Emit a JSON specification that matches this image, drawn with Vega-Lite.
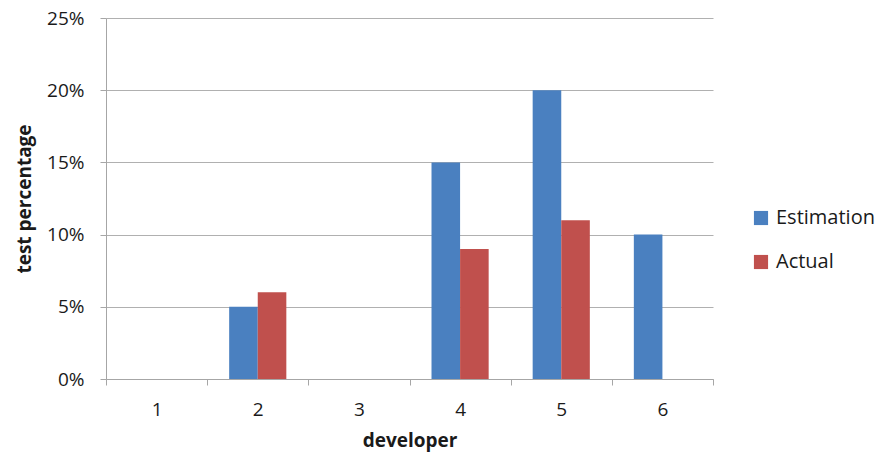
{
  "$schema": "https://vega.github.io/schema/vega-lite/v6.json",
  "autosize": "none",
  "width": 607,
  "height": 361,
  "padding": {"left": 106, "top": 18, "right": 165, "bottom": 82},
  "background": "white",
  "config": {
    "font": "Open Sans",
    "view": {"stroke": null},
    "axis": {
      "labelFont": "Open Sans",
      "titleFont": "Open Sans",
      "labelFontSize": 19,
      "titleFontSize": 19,
      "labelColor": "#1a1a1a",
      "titleColor": "#1a1a1a",
      "titleFontWeight": "bold",
      "domainColor": "#a6a6a6",
      "tickColor": "#a6a6a6",
      "gridColor": "#b0b0b0",
      "tickSize": 6
    }
  },
  "data": {
    "values": [
      {"developer": "1", "series": "Estimation", "pct": 0},
      {"developer": "1", "series": "Actual", "pct": 0},
      {"developer": "2", "series": "Estimation", "pct": 0.05},
      {"developer": "2", "series": "Actual", "pct": 0.06},
      {"developer": "3", "series": "Estimation", "pct": 0},
      {"developer": "3", "series": "Actual", "pct": 0},
      {"developer": "4", "series": "Estimation", "pct": 0.15},
      {"developer": "4", "series": "Actual", "pct": 0.09},
      {"developer": "5", "series": "Estimation", "pct": 0.20},
      {"developer": "5", "series": "Actual", "pct": 0.11},
      {"developer": "6", "series": "Estimation", "pct": 0.10},
      {"developer": "6", "series": "Actual", "pct": 0}
    ]
  },
  "mark": {"type": "bar"},
  "encoding": {
    "x": {
      "field": "developer",
      "type": "nominal",
      "title": "developer",
      "scale": {"paddingInner": 0, "paddingOuter": 0},
      "axis": {
        "labelAngle": 0,
        "tickBand": "extent",
        "labelPadding": 15,
        "titlePadding": 12
      }
    },
    "xOffset": {
      "field": "series",
      "type": "nominal",
      "sort": ["Estimation", "Actual"],
      "scale": {"paddingInner": 0, "paddingOuter": 0.77}
    },
    "y": {
      "field": "pct",
      "type": "quantitative",
      "title": "test percentage",
      "scale": {"domain": [0, 0.25]},
      "axis": {
        "format": ".0%",
        "values": [0, 0.05, 0.1, 0.15, 0.2, 0.25],
        "labelPadding": 16,
        "titlePadding": 12,
        "domainColor": "#a6a6a6"
      }
    },
    "color": {
      "field": "series",
      "type": "nominal",
      "sort": ["Estimation", "Actual"],
      "scale": {"domain": ["Estimation", "Actual"], "range": ["#4a80c0", "#c0504d"]},
      "legend": {
        "title": null,
        "orient": "none",
        "legendX": 645,
        "legendY": 190,
        "symbolType": "square",
        "symbolSize": 200,
        "symbolStrokeWidth": 0,
        "labelFontSize": 20,
        "labelFont": "Open Sans",
        "labelColor": "#1a1a1a",
        "rowPadding": 24,
        "labelOffset": 5
      }
    }
  }
}
